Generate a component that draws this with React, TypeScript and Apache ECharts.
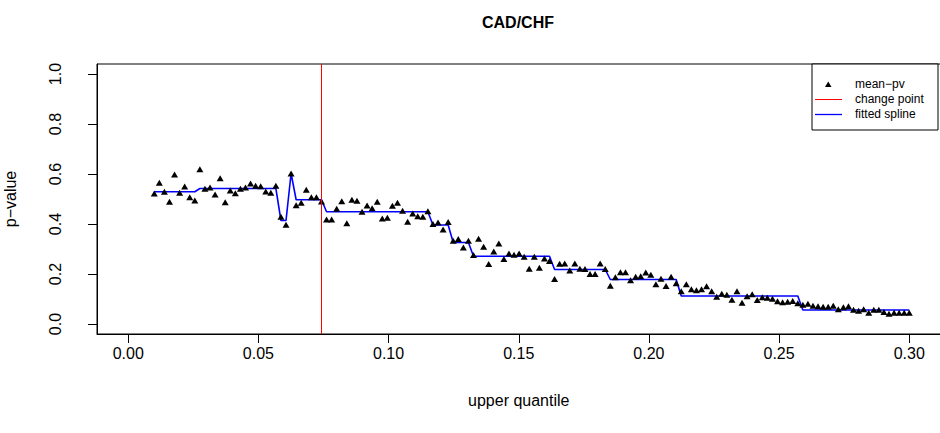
import React, { useEffect, useRef } from "react";
import * as echarts from "echarts";

// upper quantile grid: 150 evenly spaced levels from 0.01 to 0.30
const Q_FIRST = 0.01;
const Q_LAST = 0.3;
const Q_COUNT = 150;
const quantiles: number[] = Array.from(
  { length: Q_COUNT },
  (_, i) => Q_FIRST + ((Q_LAST - Q_FIRST) * i) / (Q_COUNT - 1)
);

const meanPv: number[] = [
  0.522, 0.565, 0.529, 0.489, 0.598, 0.525, 0.550, 0.507, 0.494, 0.619,
  0.541, 0.546, 0.518, 0.583, 0.487, 0.534, 0.523, 0.541, 0.546, 0.562,
  0.553, 0.551, 0.530, 0.525,
  0.553, 0.429, 0.397, 0.602, 0.475, 0.485, 0.537, 0.507, 0.507, 0.490,
  0.418, 0.418, 0.461, 0.491, 0.403, 0.497, 0.493, 0.449, 0.474, 0.463,
  0.489, 0.422, 0.425, 0.473, 0.485,
  0.453, 0.409, 0.442, 0.431, 0.429, 0.451, 0.400, 0.406, 0.378, 0.408,
  0.333, 0.340, 0.306, 0.333, 0.276, 0.341, 0.309, 0.240, 0.290, 0.322,
  0.260, 0.282, 0.277, 0.282, 0.269,
  0.221, 0.269, 0.225, 0.262, 0.252, 0.180, 0.241, 0.242, 0.214, 0.242,
  0.221, 0.220, 0.200, 0.200, 0.242, 0.220, 0.153, 0.187, 0.207, 0.207,
  0.175, 0.189, 0.191, 0.206,
  0.197, 0.159, 0.181, 0.152, 0.189, 0.163, 0.131, 0.159, 0.139, 0.135,
  0.139, 0.151, 0.131, 0.109, 0.121, 0.117, 0.097, 0.131, 0.085, 0.111,
  0.119, 0.096, 0.107, 0.105, 0.101,
  0.091, 0.087, 0.089, 0.092, 0.083, 0.077, 0.081, 0.073, 0.071, 0.069,
  0.069, 0.073, 0.059, 0.067, 0.071, 0.057, 0.053, 0.059, 0.045, 0.057,
  0.057, 0.048, 0.041, 0.045, 0.045, 0.045, 0.045,
];

const fittedSpline: number[] = [
  0.529, 0.529, 0.529, 0.529, 0.529, 0.529, 0.529, 0.529, 0.529,
  0.542, 0.542, 0.542, 0.542, 0.542, 0.542, 0.542, 0.542, 0.542, 0.542,
  0.542, 0.542, 0.542, 0.542, 0.542, 0.542,
  0.414, 0.414,
  0.602,
  0.497, 0.497, 0.497, 0.497, 0.497, 0.497,
  0.449, 0.449, 0.449, 0.449, 0.449, 0.449, 0.449, 0.449, 0.449, 0.449,
  0.449, 0.449, 0.449, 0.449, 0.449, 0.449, 0.449, 0.449, 0.449, 0.449,
  0.449,
  0.396, 0.396, 0.396, 0.396,
  0.326, 0.326, 0.326, 0.326,
  0.271, 0.271, 0.271, 0.271, 0.271, 0.271, 0.271, 0.271, 0.271, 0.271,
  0.271, 0.271, 0.271, 0.271, 0.271, 0.271,
  0.218, 0.218, 0.218, 0.218, 0.218, 0.218, 0.218, 0.218, 0.218, 0.218,
  0.218,
  0.178, 0.178, 0.178, 0.178, 0.178, 0.178, 0.178, 0.178, 0.178, 0.178,
  0.178, 0.178, 0.178, 0.178,
  0.112, 0.112, 0.112, 0.112, 0.112, 0.112, 0.112, 0.112, 0.112, 0.112,
  0.112, 0.112, 0.112, 0.112, 0.112, 0.112, 0.112, 0.112, 0.112, 0.112,
  0.112, 0.112, 0.112, 0.112,
  0.056, 0.056, 0.056, 0.056, 0.056, 0.056, 0.056, 0.056, 0.056, 0.056,
  0.056, 0.056, 0.056, 0.056, 0.056, 0.056, 0.056, 0.056, 0.056, 0.056,
  0.056, 0.056,
];

const changePoint = 0.07423;

const xTicks: number[] = [0, 0.05, 0.1, 0.15, 0.2, 0.25, 0.3];
const yTicks: number[] = [0, 0.2, 0.4, 0.6, 0.8, 1.0];

const X_MIN = -0.012;
const X_MAX = 0.312;
const Y_MIN = -0.04;
const Y_MAX = 1.04;

const FONT = "'Liberation Sans', Arial, Helvetica, sans-serif";

export default function App() {
  const ref = useRef<HTMLDivElement>(null);

  useEffect(() => {
    document.body.style.margin = "0";
    if (!ref.current) return;
    const chart = echarts.init(ref.current, null, { renderer: "svg" });

    const pointData = quantiles.map((q, i) => [q, meanPv[i]]);
    const splineData = quantiles.map((q, i) => [q, fittedSpline[i]]);
    const changeData = [
      [changePoint, Y_MIN],
      [changePoint, Y_MAX],
    ];

    const legendLeft = 812;
    const legendTop = 64;

    chart.setOption({
      animation: false,
      backgroundColor: "#ffffff",
      textStyle: { fontFamily: FONT },
      title: {
        text: "CAD/CHF",
        left: 482,
        top: 14,
        padding: 0,
        textStyle: {
          fontFamily: FONT,
          fontSize: 16,
          fontWeight: "bold",
          color: "#000",
        },
      },
      grid: {
        left: 97,
        top: 64,
        width: 843.5,
        height: 270,
        show: true,
        borderColor: "#000",
        borderWidth: 1,
        backgroundColor: "transparent",
        containLabel: false,
        outerBoundsMode: "none",
      },
      xAxis: {
        type: "value",
        min: X_MIN,
        max: X_MAX,
        axisLine: { show: true, onZero: false, lineStyle: { color: "#000", width: 1 } },
        splitLine: { show: false },
        axisTick: {
          show: true,
          inside: false,
          length: 9,
          customValues: xTicks,
          lineStyle: { color: "#000", width: 1 },
        },
        axisLabel: {
          customValues: xTicks,
          formatter: (v: number) => v.toFixed(2),
          margin: 11,
          fontSize: 16,
          color: "#000",
          fontFamily: FONT,
        },
        name: "upper quantile",
        nameLocation: "middle",
        nameGap: 58,
        nameTextStyle: { fontSize: 16, color: "#000", fontFamily: FONT },
      },
      yAxis: {
        type: "value",
        min: Y_MIN,
        max: Y_MAX,
        axisLine: { show: true, onZero: false, lineStyle: { color: "#000", width: 1 } },
        splitLine: { show: false },
        axisTick: {
          show: true,
          inside: false,
          length: 9,
          customValues: yTicks,
          lineStyle: { color: "#000", width: 1 },
        },
        axisLabel: {
          customValues: yTicks,
          formatter: (v: number) => v.toFixed(1),
          rotate: 90,
          margin: 34,
          fontSize: 16,
          color: "#000",
          fontFamily: FONT,
        },
        name: "p\u2212value",
        nameLocation: "middle",
        nameRotate: 90,
        nameGap: 79,
        nameTextStyle: { fontSize: 16, color: "#000", fontFamily: FONT },
      },
      series: [
        {
          name: "mean\u2212pv",
          type: "scatter",
          data: pointData,
          symbol: "triangle",
          symbolSize: [7, 6],
          itemStyle: { color: "#000", opacity: 1 },
          z: 3,
        },
        {
          name: "fitted spline",
          type: "line",
          data: splineData,
          showSymbol: false,
          symbol: "none",
          lineStyle: { color: "#0000ff", width: 1.6 },
          z: 2,
        },
        {
          name: "change point",
          type: "line",
          data: changeData,
          showSymbol: false,
          symbol: "none",
          lineStyle: { color: "#ff0000", width: 1, opacity: 1 },
          z: 4,
        },
      ],
      graphic: [
        {
          type: "rect",
          shape: { x: legendLeft, y: legendTop, width: 126, height: 66 },
          style: { fill: "#fff", stroke: "#000", lineWidth: 1 },
          z: 10,
        },
        {
          type: "polygon",
          shape: {
            points: [
              [legendLeft + 13, legendTop + 23],
              [legendLeft + 19.5, legendTop + 23],
              [legendLeft + 16.25, legendTop + 17.5],
            ],
          },
          style: { fill: "#000" },
          z: 11,
        },
        {
          type: "line",
          shape: { x1: legendLeft + 3, y1: legendTop + 35.5, x2: legendLeft + 30, y2: legendTop + 35.5 },
          style: { stroke: "#ff0000", lineWidth: 1 },
          z: 11,
        },
        {
          type: "line",
          shape: { x1: legendLeft + 3, y1: legendTop + 50.5, x2: legendLeft + 30, y2: legendTop + 50.5 },
          style: { stroke: "#0000ff", lineWidth: 1.3 },
          z: 11,
        },
        {
          type: "text",
          x: legendLeft + 43,
          y: legendTop + 20,
          style: { text: "mean\u2212pv", font: `12px ${FONT}`, fill: "#000", verticalAlign: "middle" },
          z: 11,
        },
        {
          type: "text",
          x: legendLeft + 43,
          y: legendTop + 35,
          style: { text: "change point", font: `12px ${FONT}`, fill: "#000", verticalAlign: "middle" },
          z: 11,
        },
        {
          type: "text",
          x: legendLeft + 43,
          y: legendTop + 50,
          style: { text: "fitted spline", font: `12px ${FONT}`, fill: "#000", verticalAlign: "middle" },
          z: 11,
        },
      ],
    });

    return () => chart.dispose();
  }, []);

  return <div ref={ref} style={{ width: 940, height: 433 }} />;
}
